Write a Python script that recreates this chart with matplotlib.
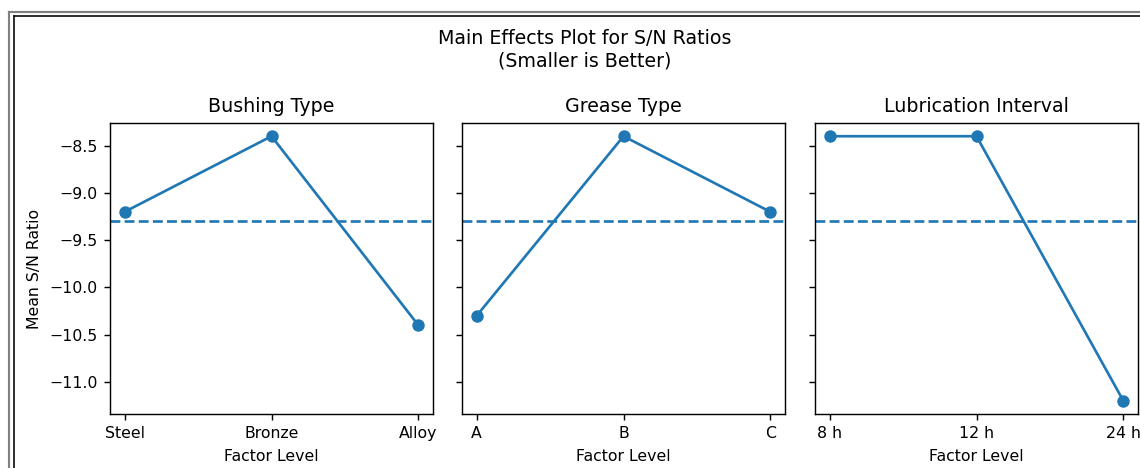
import matplotlib.pyplot as plt
from matplotlib.lines import Line2D

factors = ['Bushing Type', 'Grease Type', 'Lubrication Interval']
levels = [['Steel', 'Bronze', 'Alloy'],
          ['A', 'B', 'C'],
          ['8 h', '12 h', '24 h']]
bushing_sn = [-9.2, -8.4, -10.4]
grease_sn = [-10.3, -8.4, -9.2]
interval_sn = [-8.4, -8.4, -11.2]
overall_mean = -9.3

W, H = 1140, 468
dpi = 128
plt.rcParams['font.size'] = 8.9
plt.rcParams['axes.titlesize'] = 10.7
fig = plt.figure(figsize=(W / dpi, H / dpi), dpi=dpi)

# screenshot frame
fig.add_artist(Line2D([9 / W, 9 / W], [0, 1 - 12 / H], color='#808080', lw=1.2))
fig.add_artist(Line2D([9 / W, 1], [1 - 12 / H, 1 - 12 / H], color='#808080', lw=1.2))
fig.add_artist(Line2D([13.5 / W, 13.5 / W], [0, 1 - 16 / H], color='black', lw=0.9))
fig.add_artist(Line2D([13.5 / W, 1], [1 - 16 / H, 1 - 16 / H], color='black', lw=0.9))

lefts = [110, 462, 815]
pw, top, bot = 323, 123, 414
axes = []
for i, x0 in enumerate(lefts):
    ax = fig.add_axes([x0 / W, 1 - bot / H, pw / W, (bot - top) / H],
                      sharey=axes[0] if axes else None)
    axes.append(ax)

series = [bushing_sn, grease_sn, interval_sn]
for i, ax in enumerate(axes):
    x = list(range(len(levels[i])))
    ax.plot(x, series[i], marker='o')
    ax.axhline(overall_mean, linestyle='--')
    ax.set_xticks(x)
    ax.set_xticklabels(levels[i])
    ax.set_title(factors[i])
    ax.set_xlabel('Factor Level')
    if i > 0:
        ax.tick_params(labelleft=False)
axes[0].set_ylabel('Mean S/N Ratio')
axes[0].set_yticks([-8.5, -9.0, -9.5, -10.0, -10.5, -11.0])

fig.text(585 / W, 1 - 50 / H, 'Main Effects Plot for S/N Ratios\n(Smaller is Better)',
         ha='center', va='center', fontsize=10.7)

fig.savefig('out.png', dpi=dpi)
